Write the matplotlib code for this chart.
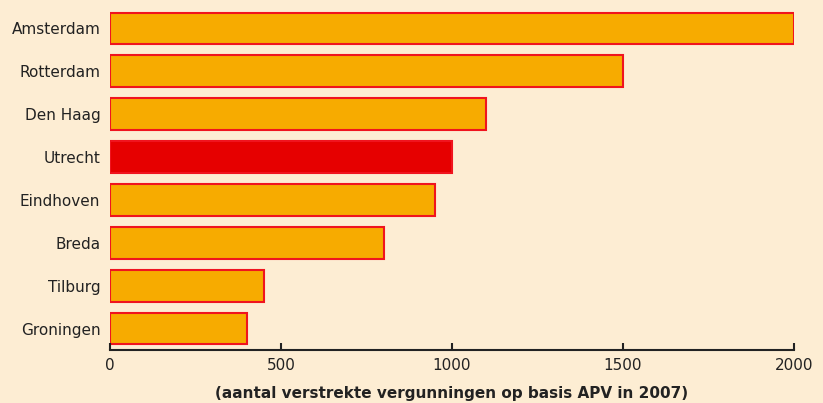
import matplotlib.pyplot as plt

# Data
steden = ['Amsterdam', 'Rotterdam', 'Den Haag', 'Utrecht',
          'Eindhoven', 'Breda', 'Tilburg', 'Groningen']
vergunningen = [2000, 1500, 1100, 1000, 950, 800, 450, 400]
highlight = 'Utrecht'

bg = '#FDEDD3'
oranje = '#F7AB00'
rood = '#E60000'
tekst = '#222222'

fig = plt.figure(figsize=(8.23, 4.03), dpi=100, facecolor=bg)
ax = fig.add_axes([110/823, 53/403, 684/823, 343/403], facecolor=bg)

kleuren = [rood if s == highlight else oranje for s in steden]
ax.barh(range(len(steden)), vergunningen, height=0.74, color=kleuren,
        edgecolor='#F0141E', linewidth=1.5)

ax.set_ylim(len(steden) - 0.5, -0.5)
ax.set_xlim(0, 2000)
ax.set_yticks(range(len(steden)))
ax.set_yticklabels(steden, fontsize=11, color=tekst)
ax.tick_params(axis='y', length=0, pad=7)
ax.set_xticks([0, 500, 1000, 1500, 2000])
ax.tick_params(axis='x', direction='in', length=5, width=1.5, labelsize=11,
               pad=6, labelcolor=tekst, color=tekst)

for s in ['top', 'right', 'left']:
    ax.spines[s].set_visible(False)
ax.spines['bottom'].set_linewidth(1.5)
ax.spines['bottom'].set_color(tekst)

ax.set_xlabel('(aantal verstrekte vergunningen op basis APV in 2007)',
              fontsize=11, fontweight='bold', labelpad=9, color=tekst)

fig.savefig('out.png', dpi=100, facecolor=bg)
